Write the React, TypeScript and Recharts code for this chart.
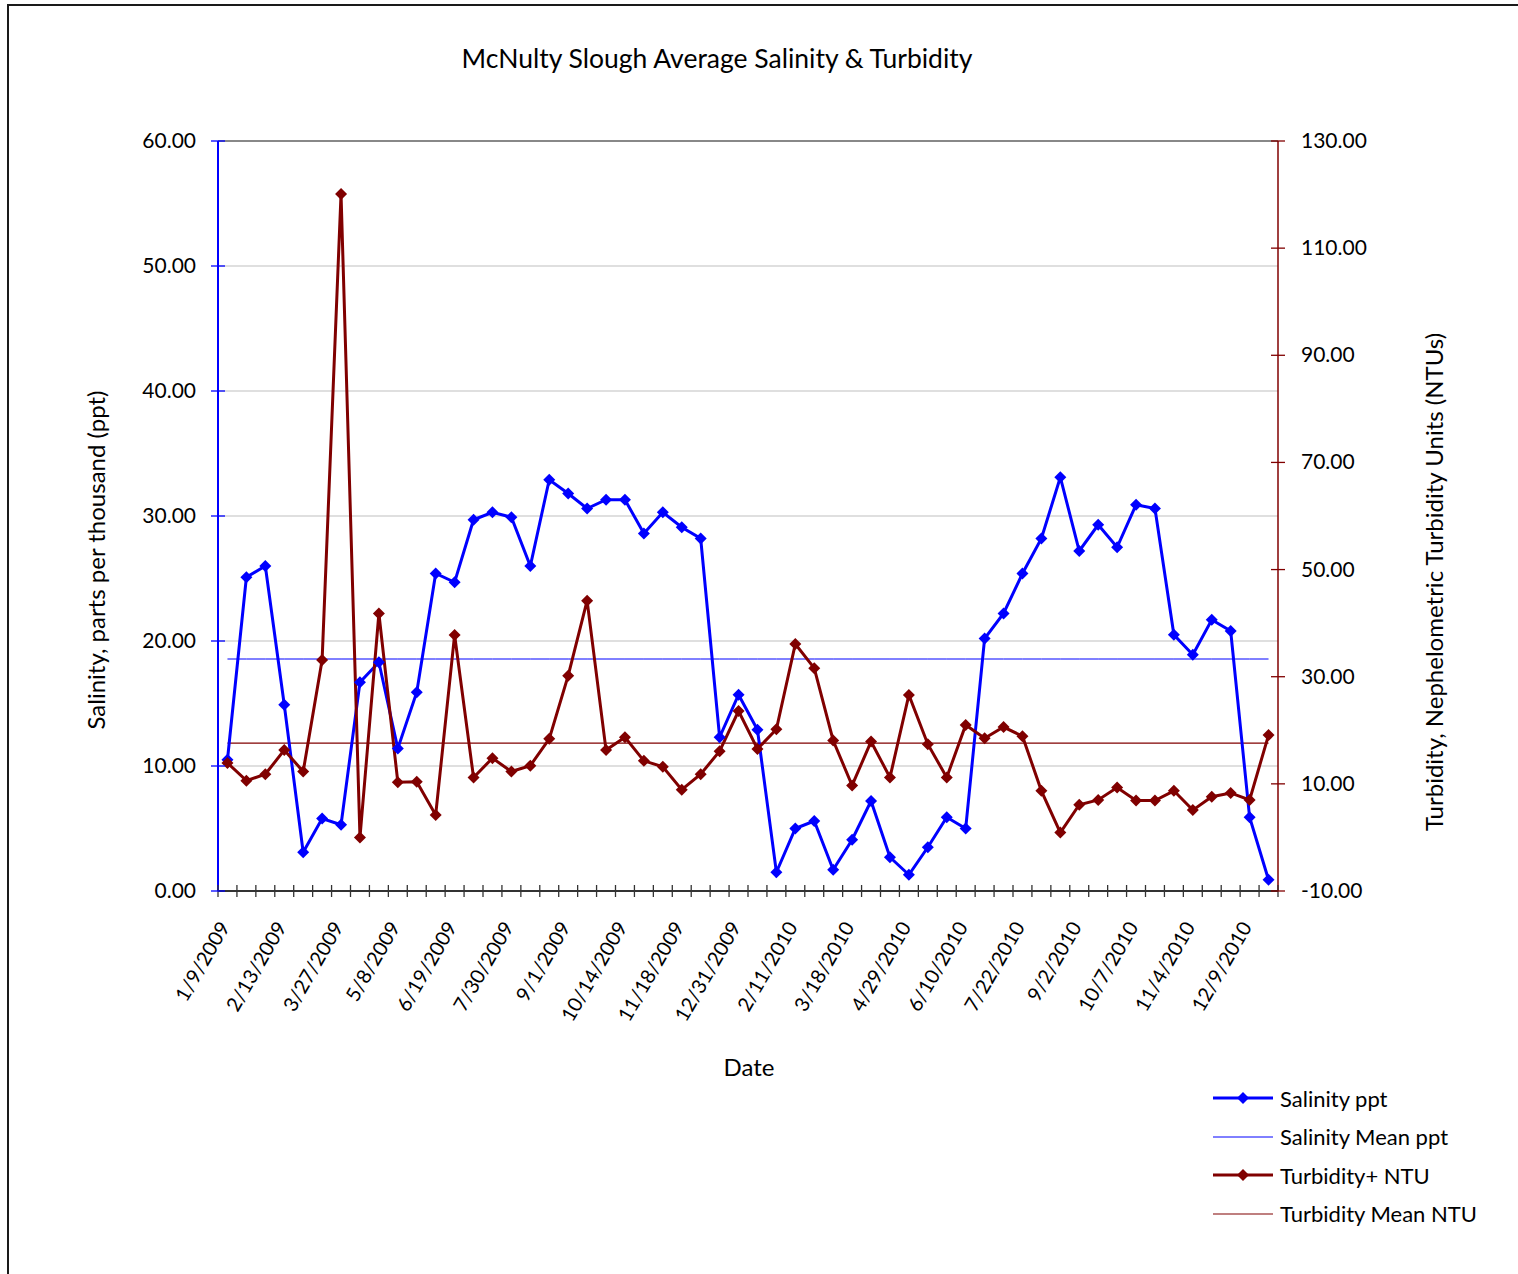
import { LineChart, Line, XAxis, YAxis, CartesianGrid, ReferenceLine } from 'recharts';

// sampling dates (every third one is labelled on the axis)
const DATES = [
  '1/9/2009', '1/23/2009', '1/30/2009', '2/13/2009', '2/27/2009', '3/13/2009',
  '3/27/2009', '4/10/2009', '4/24/2009', '5/8/2009', '5/22/2009', '6/5/2009',
  '6/19/2009', '7/2/2009', '7/16/2009', '7/30/2009', '8/13/2009', '8/20/2009',
  '9/1/2009', '9/17/2009', '10/1/2009', '10/14/2009', '10/28/2009', '11/4/2009',
  '11/18/2009', '12/2/2009', '12/16/2009', '12/31/2009', '1/14/2010', '1/28/2010',
  '2/11/2010', '2/25/2010', '3/4/2010', '3/18/2010', '4/1/2010', '4/15/2010',
  '4/29/2010', '5/13/2010', '5/27/2010', '6/10/2010', '6/24/2010', '7/8/2010',
  '7/22/2010', '8/5/2010', '8/19/2010', '9/2/2010', '9/16/2010', '9/23/2010',
  '10/7/2010', '10/14/2010', '10/21/2010', '11/4/2010', '11/18/2010', '11/24/2010',
  '12/9/2010', '12/22/2010',
];

const SALINITY = [
  10.5, 25.1, 26.0, 14.9, 3.1, 5.8, 5.3, 16.7, 18.3, 11.4, 15.9, 25.4, 24.7, 29.7,
  30.3, 29.9, 26.0, 32.9, 31.8, 30.6, 31.3, 31.3, 28.6, 30.3, 29.1, 28.2, 12.3, 15.7,
  12.9, 1.5, 5.0, 5.6, 1.7, 4.1, 7.2, 2.7, 1.3, 3.5, 5.9, 5.0, 20.2, 22.2, 25.4, 28.2,
  33.1, 27.2, 29.3, 27.5, 30.9, 30.6, 20.5, 18.9, 21.7, 20.8, 5.9, 0.9,
];

const TURBIDITY = [
  13.9, 10.6, 11.8, 16.3, 12.3, 33.1, 120.1, 0.0, 41.8, 10.3, 10.4, 4.2, 37.8, 11.2,
  14.8, 12.3, 13.4, 18.4, 30.2, 44.2, 16.3, 18.7, 14.3, 13.2, 8.9, 11.8, 16.1, 23.6,
  16.5, 20.2, 36.1, 31.6, 18.1, 9.7, 17.9, 11.2, 26.6, 17.4, 11.2, 21.0, 18.5, 20.6,
  18.9, 8.7, 0.9, 6.1, 7.0, 9.3, 6.9, 6.9, 8.7, 5.1, 7.6, 8.3, 7.0, 19.1,
];

const SALINITY_MEAN = 18.56;
const TURBIDITY_MEAN = 17.6;

const LEFT_TICKS = [0, 10, 20, 30, 40, 50, 60];
const RIGHT_TICKS = [-10, 10, 30, 50, 70, 90, 110, 130];

const BLUE = '#0000ff';
const MAROON = '#800000';
const FONT = 'Lato, "Open Sans", sans-serif';

const chartData = DATES.map((date, i) => ({
  date,
  salinity: SALINITY[i],
  salinityMean: SALINITY_MEAN,
  turbidity: TURBIDITY[i],
  turbidityMean: TURBIDITY_MEAN,
}));

const PLOT_WIDTH = 1060;
const BAND = PLOT_WIDTH / DATES.length;

const diamond = (color: string) => (props: any) => {
  const { cx, cy, index } = props;
  if (cx == null || cy == null) return <g key={index} />;
  const r = 6;
  return (
    <polygon
      key={index}
      points={`${cx},${cy - r} ${cx + r},${cy} ${cx},${cy + r} ${cx - r},${cy}`}
      fill={color}
    />
  );
};

const DateTick = (props: any) => {
  const { x, y, payload, index } = props;
  const left = x - BAND / 2;
  const ax = x + 3;
  const ay = y + 36;
  return (
    <g>
      <line x1={left} x2={left} y1={y - 6} y2={y + 6} stroke='#333' strokeWidth={1.3} />
      {index === DATES.length - 1 && (
        <line x1={x + BAND / 2} x2={x + BAND / 2} y1={y - 6} y2={y + 6} stroke='#333' strokeWidth={1.3} />
      )}
      {index % 3 === 0 && (
        <text
          x={ax}
          y={ay}
          transform={`rotate(-60, ${ax}, ${ay})`}
          textAnchor='end'
          fontSize={20}
          fontFamily={FONT}
          fill='#000'
        >
          {payload.value}
        </text>
      )}
    </g>
  );
};

const valueTick = (color: string, side: 'left' | 'right') => (props: any) => {
  const { x, y, payload } = props;
  return (
    <g>
      <line x1={x - 7} x2={x + 7} y1={y} y2={y} stroke={color} strokeWidth={1.3} />
      <text
        x={side === 'left' ? x - 22 : x + 23}
        y={y}
        dy={7}
        textAnchor={side === 'left' ? 'end' : 'start'}
        fontSize={21}
        fontFamily={FONT}
        fill='#000'
      >
        {payload.value.toFixed(2)}
      </text>
    </g>
  );
};

const LEGEND_ITEMS = [
  { label: 'Salinity ppt', color: BLUE, width: 3, marker: true, opacity: 1 },
  { label: 'Salinity Mean ppt', color: BLUE, width: 1, marker: false, opacity: 1 },
  { label: 'Turbidity+ NTU', color: MAROON, width: 3, marker: true, opacity: 1 },
  { label: 'Turbidity Mean NTU', color: MAROON, width: 2, marker: false, opacity: 0.5 },
];

const App = () => {
  return (
    <div
      style={{
        position: 'absolute',
        left: 0,
        top: 0,
        width: 1518,
        height: 1274,
        overflow: 'hidden',
        background: '#fff',
        fontFamily: FONT,
      }}
    >
      {/* chart area frame, runs off the picture at right and bottom */}
      <div
        style={{
          position: 'absolute',
          left: 7,
          top: 4,
          width: 1600,
          height: 1400,
          border: '2px solid #1a1a1a',
        }}
      />

      <div
        style={{
          position: 'absolute',
          left: 717,
          top: 42,
          transform: 'translateX(-50%)',
          whiteSpace: 'nowrap',
          fontSize: 26.5,
          color: '#000',
        }}
      >
        McNulty Slough Average Salinity &amp; Turbidity
      </div>

      <div style={{ position: 'absolute', left: 0, top: 0 }}>
        <LineChart
          width={1518}
          height={1274}
          data={chartData}
          margin={{ top: 141, right: 140, bottom: 253, left: 158 }}
        >
          <CartesianGrid horizontal vertical={false} stroke='#d4d4d4' strokeWidth={1.3} yAxisId='left' />
          <ReferenceLine yAxisId='left' y={60} stroke='#888' strokeWidth={2} />
          <XAxis
            dataKey='date'
            scale='band'
            interval={0}
            tickSize={0}
            tickMargin={0}
            tick={<DateTick />}
            tickLine={false}
            axisLine={{ stroke: '#333', strokeWidth: 2 }}
            height={130}
          />
          <YAxis
            yAxisId='left'
            domain={[0, 60]}
            ticks={LEFT_TICKS}
            tickSize={0}
            tickMargin={0}
            tickLine={false}
            tick={valueTick(BLUE, 'left')}
            axisLine={{ stroke: BLUE, strokeWidth: 2 }}
            width={60}
          />
          <YAxis
            yAxisId='right'
            orientation='right'
            domain={[-10, 130]}
            ticks={RIGHT_TICKS}
            tickSize={0}
            tickMargin={0}
            tickLine={false}
            tick={valueTick(MAROON, 'right')}
            axisLine={{ stroke: MAROON, strokeWidth: 1.5 }}
            width={100}
          />
          <Line
            yAxisId='left'
            dataKey='salinityMean'
            stroke={BLUE}
            strokeWidth={1}
            dot={false}
            isAnimationActive={false}
          />
          <Line
            yAxisId='right'
            dataKey='turbidityMean'
            stroke={MAROON}
            strokeWidth={1.2}
            dot={false}
            isAnimationActive={false}
          />
          <Line
            yAxisId='left'
            dataKey='salinity'
            stroke={BLUE}
            strokeWidth={3}
            dot={diamond(BLUE)}
            activeDot={false}
            isAnimationActive={false}
          />
          <Line
            yAxisId='right'
            dataKey='turbidity'
            stroke={MAROON}
            strokeWidth={3}
            dot={diamond(MAROON)}
            activeDot={false}
            isAnimationActive={false}
          />
        </LineChart>
      </div>

      <div
        style={{
          position: 'absolute',
          left: 95,
          top: 560,
          transform: 'translate(-50%, -50%) rotate(-90deg)',
          whiteSpace: 'nowrap',
          fontSize: 24,
        }}
      >
        Salinity, parts per thousand (ppt)
      </div>
      <div
        style={{
          position: 'absolute',
          left: 1433,
          top: 582,
          transform: 'translate(-50%, -50%) rotate(-90deg)',
          whiteSpace: 'nowrap',
          fontSize: 24,
        }}
      >
        Turbidity, Nephelometric Turbidity Units (NTUs)
      </div>
      <div
        style={{
          position: 'absolute',
          left: 749,
          top: 1066,
          transform: 'translate(-50%, -50%)',
          fontSize: 24,
        }}
      >
        Date
      </div>

      <div style={{ position: 'absolute', left: 1213, top: 1079 }}>
        {LEGEND_ITEMS.map(item => (
          <div key={item.label} style={{ display: 'flex', alignItems: 'center', height: 38.5 }}>
            <svg width={60} height={20} style={{ marginRight: 7 }}>
              <line x1={0} x2={60} y1={10} y2={10} stroke={item.color} strokeWidth={item.width} strokeOpacity={item.opacity} />
              {item.marker && <polygon points='30,4 36,10 30,16 24,10' fill={item.color} />}
            </svg>
            <span style={{ fontSize: 22 }}>{item.label}</span>
          </div>
        ))}
      </div>
    </div>
  );
};

export default App;
